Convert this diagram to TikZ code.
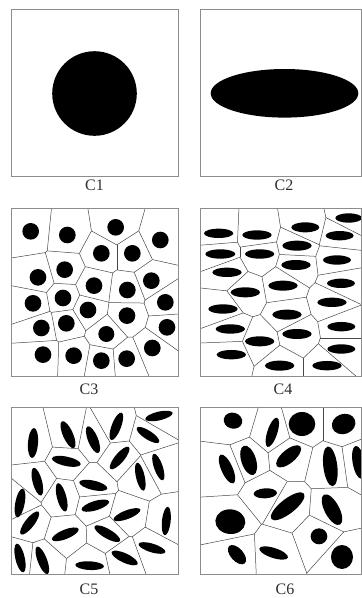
\documentclass[tikz,border=0pt]{standalone}
\usepackage{fontspec}
\setmainfont{Liberation Serif}
\usepackage{xcolor}
\usepackage{tikz}
\definecolor{cellline}{HTML}{474747}
\definecolor{panelgray}{HTML}{8C8C8C}
\definecolor{labgray}{HTML}{2E2E2E}

\tikzset{
  wall/.style={draw=cellline, line width=0.5pt},
  panel/.style={draw=panelgray, line width=0.8pt},
  lab/.style={font=\fontsize{16}{19}\selectfont, text=labgray}
}

% inclusions: x/y/x radius/y radius/tilt, in zoom units of the panel
\def\cellsthree{68/82/25/25/0, 178/93/25/25/0, 323/70/25/25/0, 457/108/25/25/0,
  280/148/25/25/0, 373/148/25/25/0, 170/197/25/25/0, 90/220/25/25/0,
  258/245/25/25/0, 358/258/25/25/0, 430/230/25/25/0, 75/298/25/25/0,
  165/282/25/25/0, 240/318/25/25/0, 357/335/25/25/0, 472/295/25/25/0,
  100/372/25/25/0, 175/358/25/25/0, 295/390/24/24/0, 477/370/25/25/0,
  105/452/25/25/0, 197/455/25/25/0, 280/470/25/25/0, 356/464/25/25/0,
  433/432/25/25/0}
\def\cellsfour{455/42/40/14/0, 65/88/44/14/0, 180/93/44/14/0, 325/70/42/15/0,
  428/95/42/14/0, 300/125/44/15/0, 70/150/45/14/0, 188/150/44/14/0,
  420/168/42/14/0, 297/183/44/15/0, 90/205/44/14/0, 258/245/44/15/0,
  432/238/42/14/0, 145/265/44/15/0, 405/295/44/14/0, 78/315/44/14/0,
  270/332/44/15/0, 433/368/42/14/0, 100/375/44/14/0, 300/390/44/15/0,
  188/412/44/15/0, 433/435/42/14/0, 103/452/44/14/0, 248/485/44/15/0,
  390/485/44/14/0}
\def\cellsfive{75/120/45/15/86, 180/95/44/15/114, 255/110/43/15/112,
  325/70/44/14/69, 453/39/42/13/13, 420/96/40/13/-33, 175/175/44/14/-12,
  335/165/43/14/50, 88/236/43/14/105, 161/283/44/14/105, 256/247/43/14/-13,
  397/221/43/13/103, 451/192/42/13/109, 36/300/44/14/79, 262/308/43/14/17,
  65/360/43/14/52, 172/394/43/14/22, 357/335/43/13/21, 475/354/43/13/84,
  298/392/44/14/-30, 36/465/44/14/103, 103/472/44/14/111, 245/488/43/13/-3,
  350/465/43/14/-25, 432/435/42/13/-17}
\def\cellssix{108/53/28/24/-15, 226/88/46/15/72, 315/63/40/36/0,
  440/63/36/30/20, 155/172/46/22/108, 90/198/47/17/114, 275/160/46/20/40,
  400/190/60/21/97, 485/178/50/18/100, 205/271/35/15/3, 272/310/62/22/38,
  405/320/51/22/118, 100/356/45/37/-5, 366/400/25/24/0, 120/455/35/19/132,
  230/450/45/15/-18, 435/462/33/36/0}

% keep the part t*q <= r of the current wall
\newcommand\wcut{%
  \ifdim\wq pt>0.01pt
    \pgfmathsetmacro\wt{\wr/\wq}\ifdim\wt pt<\whi pt\xdef\whi{\wt}\fi
  \else\ifdim\wq pt<-0.01pt
    \pgfmathsetmacro\wt{\wr/\wq}\ifdim\wt pt>\wlo pt\xdef\wlo{\wt}\fi
  \else\ifdim\wr pt<0pt\xdef\whi{-99}\fi
  \fi\fi}

% walls between the grains: #1-#4 box, #5 inclusions, #6 squared reach
\newcommand\cellwalls[6]{%
  \foreach \ax/\ay/\aw/\ah/\at [count=\i] in #5 {
    \foreach \bx/\by/\bw/\bh/\bt [count=\j] in #5 {
      \ifnum\j>\i
        \pgfmathsetmacro\wdx{(\ay-\by)/100}
        \pgfmathsetmacro\wdy{(\bx-\ax)/100}
        \pgfmathsetmacro\wdd{(\wdx)*(\wdx)+(\wdy)*(\wdy)}
        \ifdim\wdd pt<#6pt
          \pgfmathsetmacro\wmx{(\ax+\bx)/200}
          \pgfmathsetmacro\wmy{(\ay+\by)/200}
          \xdef\wlo{-50}\xdef\whi{50}
          \foreach \cx/\cy/\cw/\ch/\ct [count=\k] in #5 {
            \ifnum\k=\i\else\ifnum\k=\j\else
              \pgfmathsetmacro\wnx{(\cx-\ax)/100}
              \pgfmathsetmacro\wny{(\cy-\ay)/100}
              \pgfmathsetmacro\wq{(\wdx)*(\wnx)+(\wdy)*(\wny)}
              \pgfmathsetmacro\wr{((\ax+\cx)/200-\wmx)*(\wnx)+((\ay+\cy)/200-\wmy)*(\wny)}
              \wcut
            \fi\fi
          }
          \pgfmathsetmacro\wq{-(\wdx)}\pgfmathsetmacro\wr{\wmx-#1/100}\wcut
          \pgfmathsetmacro\wq{\wdx}\pgfmathsetmacro\wr{#3/100-\wmx}\wcut
          \pgfmathsetmacro\wq{-(\wdy)}\pgfmathsetmacro\wr{\wmy-#2/100}\wcut
          \pgfmathsetmacro\wq{\wdy}\pgfmathsetmacro\wr{#4/100-\wmy}\wcut
          \ifdim\wlo pt<\whi pt
            \draw[wall] ({100*(\wmx+(\wlo)*(\wdx))},{100*(\wmy+(\wlo)*(\wdy))})
              -- ({100*(\wmx+(\whi)*(\wdx))},{100*(\wmy+(\whi)*(\wdy))});
          \fi
        \fi
      \fi
    }
  }
}

\newcommand\inclusions[1]{%
  \foreach \px/\py/\rx/\ry/\tilt in #1 {
    \fill[rotate around={\tilt:(\px,\py)}] (\px,\py) ellipse [x radius=\rx, y radius=\ry];
  }
}

\begin{document}
\begin{tikzpicture}[x=1pt, y=-1pt]
  \useasboundingbox (0,0) rectangle (362,598);

  % single grain
  \draw[panel] (11,9.3) rectangle (178.5,176.7);
  \fill (94.5,93.5) circle (42.3);
  \node[lab] (c1) at (94.5,185.5) {C1};

  \draw[panel] (200.5,9.3) rectangle (361.7,176.7);
  \fill (284.5,93.3) ellipse [x radius=73.8, y radius=24.3];
  \node[lab] (c2) at (284,185.5) {C2};

  % grain sets
  \begin{scope}[shift={(8pt,-204pt)}, x=0.3333pt, y=-0.3333pt]
    \cellwalls{9}{12}{511.5}{516}{\cellsthree}{4.6}
    \inclusions{\cellsthree}
    \draw[panel] (9,12) rectangle (511.5,516);
  \end{scope}
  \node[lab] (c3) at (89,389) {C3};

  \begin{scope}[shift={(197pt,-204pt)}, x=0.3333pt, y=-0.3333pt]
    \cellwalls{10.5}{12}{494}{516}{\cellsfour}{4.6}
    \inclusions{\cellsfour}
    \draw[panel] (10.5,12) rectangle (494,516);
  \end{scope}
  \node[lab] (c4) at (283,389) {C4};

  \begin{scope}[shift={(8pt,-403pt)}, x=0.3333pt, y=-0.3333pt]
    \cellwalls{9}{12}{511.5}{515}{\cellsfive}{4.6}
    \inclusions{\cellsfive}
    \draw[panel] (9,12) rectangle (511.5,515);
  \end{scope}
  \node[lab] (c5) at (89,589) {C5};

  \begin{scope}[shift={(197pt,-403pt)}, x=0.3333pt, y=-0.3333pt]
    \cellwalls{10.5}{12}{494}{515}{\cellssix}{8.6}
    \inclusions{\cellssix}
    \draw[panel] (10.5,12) rectangle (494,515);
  \end{scope}
  \node[lab] (c6) at (285,589) {C6};
\end{tikzpicture}
\end{document}
